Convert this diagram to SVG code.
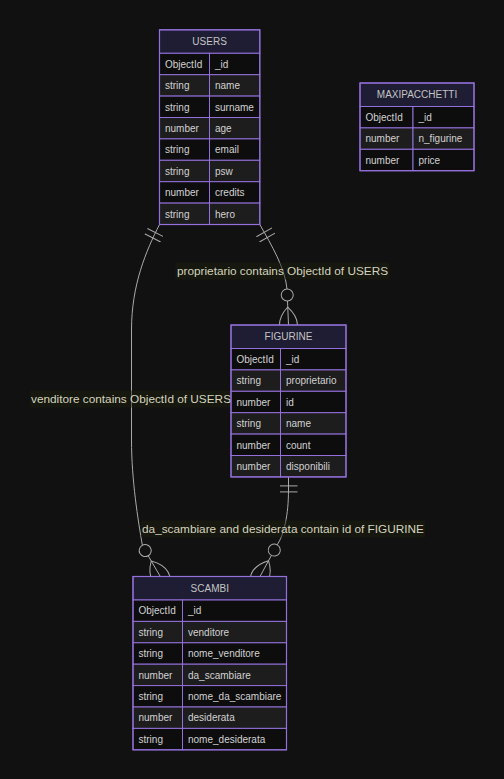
<svg xmlns="http://www.w3.org/2000/svg" width="504" height="779" viewBox="0 0 504 779">
<style>
.hdr{fill:#1e1d33;stroke:#9370DB;stroke-width:1}
.odd{fill:#0d0d0d;stroke:#9370DB;stroke-width:1}
.even{fill:#1d1d1d;stroke:#9370DB;stroke-width:1}
.box{fill:none;stroke:#9370DB;stroke-width:1.2}
.ht{font-family:"Liberation Sans",Arial,sans-serif;font-size:10px;fill:#c4c4c4;text-anchor:middle}
.at{font-family:"Liberation Sans",Arial,sans-serif;font-size:10px;fill:#d2d2d2}
.edge{fill:none;stroke:#aaaaaa;stroke-width:1}
.lblbg{fill:#1c1e0e;opacity:0.5}
.lbl{font-family:"Liberation Sans",Arial,sans-serif;font-size:11.8px;fill:#d4d4be;text-anchor:middle}
</style>
<defs>
<marker id="oneStart" markerUnits="userSpaceOnUse" markerWidth="18" markerHeight="18" refX="0" refY="9" orient="auto">
<path d="M9,0 L9,18 M15,0 L15,18" fill="none" stroke="#aaaaaa" stroke-width="1"/>
</marker>
<marker id="manyEnd" markerUnits="userSpaceOnUse" markerWidth="57" markerHeight="36" refX="39" refY="18" orient="auto">
<circle cx="9" cy="18" r="6" fill="#111111" stroke="#aaaaaa" stroke-width="1"/>
<path d="M21,18 Q39,0 57,18 Q39,36 21,18" fill="none" stroke="#aaaaaa" stroke-width="1"/>
</marker>
</defs>
<rect x="0" y="0" width="504" height="779" fill="#111111"/>
<g id="connectors">
<path class="edge" d="M259.8,224.5 C272,246 285,268 287,289 L288.5,325" marker-start="url(#oneStart)" marker-end="url(#manyEnd)"/>
<path class="edge" d="M159.5,224.5 C146,251 131.5,285 131.5,330 L131.5,440 C131.5,480 138,520 142.5,546 L160.3,576.5" marker-start="url(#oneStart)" marker-end="url(#manyEnd)"/>
<path class="edge" d="M288.5,476.9 L288.5,490 C288.5,515 284,535 277,545 L260,576.5" marker-start="url(#oneStart)" marker-end="url(#manyEnd)"/>
<rect class="lblbg" x="175.5" y="262.5" width="214" height="17"/>
<text class="lbl" x="282.5" y="274.5">proprietario contains ObjectId of USERS</text>
<rect class="lblbg" x="30" y="390.5" width="202" height="17"/>
<text class="lbl" x="131" y="402.5">venditore contains ObjectId of USERS</text>
<rect class="lblbg" x="141" y="520.5" width="284" height="17"/>
<text class="lbl" x="283" y="532.5">da_scambiare and desiderata contain id of FIGURINE</text>
</g>
<g id="USERS">
<rect class="hdr" x="159.5" y="29.8" width="100.3" height="23.5"/>
<text class="ht" x="209.6" y="45.2">USERS</text>
<rect class="odd" x="159.5" y="53.3" width="50" height="21.4"/><rect class="odd" x="209.5" y="53.3" width="50.3" height="21.4"/>
<text class="at" x="165" y="67.7">ObjectId</text><text class="at" x="215" y="67.7">_id</text>
<rect class="even" x="159.5" y="74.7" width="50" height="21.4"/><rect class="even" x="209.5" y="74.7" width="50.3" height="21.4"/>
<text class="at" x="165" y="89.1">string</text><text class="at" x="215" y="89.1">name</text>
<rect class="odd" x="159.5" y="96.1" width="50" height="21.4"/><rect class="odd" x="209.5" y="96.1" width="50.3" height="21.4"/>
<text class="at" x="165" y="110.5">string</text><text class="at" x="215" y="110.5">surname</text>
<rect class="even" x="159.5" y="117.5" width="50" height="21.4"/><rect class="even" x="209.5" y="117.5" width="50.3" height="21.4"/>
<text class="at" x="165" y="131.9">number</text><text class="at" x="215" y="131.9">age</text>
<rect class="odd" x="159.5" y="138.9" width="50" height="21.4"/><rect class="odd" x="209.5" y="138.9" width="50.3" height="21.4"/>
<text class="at" x="165" y="153.3">string</text><text class="at" x="215" y="153.3">email</text>
<rect class="even" x="159.5" y="160.3" width="50" height="21.4"/><rect class="even" x="209.5" y="160.3" width="50.3" height="21.4"/>
<text class="at" x="165" y="174.7">string</text><text class="at" x="215" y="174.7">psw</text>
<rect class="odd" x="159.5" y="181.7" width="50" height="21.4"/><rect class="odd" x="209.5" y="181.7" width="50.3" height="21.4"/>
<text class="at" x="165" y="196.1">number</text><text class="at" x="215" y="196.1">credits</text>
<rect class="even" x="159.5" y="203.1" width="50" height="21.4"/><rect class="even" x="209.5" y="203.1" width="50.3" height="21.4"/>
<text class="at" x="165" y="217.5">string</text><text class="at" x="215" y="217.5">hero</text>
<rect class="box" x="159.5" y="29.8" width="100.3" height="194.7"/>
</g>
<g id="MAXIPACCHETTI">
<rect class="hdr" x="360" y="83" width="114" height="23.5"/>
<text class="ht" x="417" y="98.4">MAXIPACCHETTI</text>
<rect class="odd" x="360" y="106.5" width="53" height="21.4"/><rect class="odd" x="413" y="106.5" width="61" height="21.4"/>
<text class="at" x="365.5" y="120.9">ObjectId</text><text class="at" x="418.5" y="120.9">_id</text>
<rect class="even" x="360" y="127.9" width="53" height="21.4"/><rect class="even" x="413" y="127.9" width="61" height="21.4"/>
<text class="at" x="365.5" y="142.3">number</text><text class="at" x="418.5" y="142.3">n_figurine</text>
<rect class="odd" x="360" y="149.3" width="53" height="21.4"/><rect class="odd" x="413" y="149.3" width="61" height="21.4"/>
<text class="at" x="365.5" y="163.7">number</text><text class="at" x="418.5" y="163.7">price</text>
<rect class="box" x="360" y="83" width="114" height="87.7"/>
</g>
<g id="FIGURINE">
<rect class="hdr" x="231" y="325" width="115" height="23.5"/>
<text class="ht" x="288.5" y="340.4">FIGURINE</text>
<rect class="odd" x="231" y="348.5" width="49.5" height="21.4"/><rect class="odd" x="280.5" y="348.5" width="65.5" height="21.4"/>
<text class="at" x="236.5" y="362.9">ObjectId</text><text class="at" x="286" y="362.9">_id</text>
<rect class="even" x="231" y="369.9" width="49.5" height="21.4"/><rect class="even" x="280.5" y="369.9" width="65.5" height="21.4"/>
<text class="at" x="236.5" y="384.3">string</text><text class="at" x="286" y="384.3">proprietario</text>
<rect class="odd" x="231" y="391.3" width="49.5" height="21.4"/><rect class="odd" x="280.5" y="391.3" width="65.5" height="21.4"/>
<text class="at" x="236.5" y="405.7">number</text><text class="at" x="286" y="405.7">id</text>
<rect class="even" x="231" y="412.7" width="49.5" height="21.4"/><rect class="even" x="280.5" y="412.7" width="65.5" height="21.4"/>
<text class="at" x="236.5" y="427.1">string</text><text class="at" x="286" y="427.1">name</text>
<rect class="odd" x="231" y="434.1" width="49.5" height="21.4"/><rect class="odd" x="280.5" y="434.1" width="65.5" height="21.4"/>
<text class="at" x="236.5" y="448.5">number</text><text class="at" x="286" y="448.5">count</text>
<rect class="even" x="231" y="455.5" width="49.5" height="21.4"/><rect class="even" x="280.5" y="455.5" width="65.5" height="21.4"/>
<text class="at" x="236.5" y="469.9">number</text><text class="at" x="286" y="469.9">disponibili</text>
<rect class="box" x="231" y="325" width="115" height="151.9"/>
</g>
<g id="SCAMBI">
<rect class="hdr" x="133" y="576.5" width="153.5" height="23.5"/>
<text class="ht" x="209.75" y="591.9">SCAMBI</text>
<rect class="odd" x="133" y="600" width="49.5" height="21.4"/><rect class="odd" x="182.5" y="600" width="104" height="21.4"/>
<text class="at" x="138.5" y="614.4">ObjectId</text><text class="at" x="188" y="614.4">_id</text>
<rect class="even" x="133" y="621.4" width="49.5" height="21.4"/><rect class="even" x="182.5" y="621.4" width="104" height="21.4"/>
<text class="at" x="138.5" y="635.8">string</text><text class="at" x="188" y="635.8">venditore</text>
<rect class="odd" x="133" y="642.8" width="49.5" height="21.4"/><rect class="odd" x="182.5" y="642.8" width="104" height="21.4"/>
<text class="at" x="138.5" y="657.2">string</text><text class="at" x="188" y="657.2">nome_venditore</text>
<rect class="even" x="133" y="664.2" width="49.5" height="21.4"/><rect class="even" x="182.5" y="664.2" width="104" height="21.4"/>
<text class="at" x="138.5" y="678.6">number</text><text class="at" x="188" y="678.6">da_scambiare</text>
<rect class="odd" x="133" y="685.6" width="49.5" height="21.4"/><rect class="odd" x="182.5" y="685.6" width="104" height="21.4"/>
<text class="at" x="138.5" y="700">string</text><text class="at" x="188" y="700">nome_da_scambiare</text>
<rect class="even" x="133" y="707" width="49.5" height="21.4"/><rect class="even" x="182.5" y="707" width="104" height="21.4"/>
<text class="at" x="138.5" y="721.4">number</text><text class="at" x="188" y="721.4">desiderata</text>
<rect class="odd" x="133" y="728.4" width="49.5" height="21.4"/><rect class="odd" x="182.5" y="728.4" width="104" height="21.4"/>
<text class="at" x="138.5" y="742.8">string</text><text class="at" x="188" y="742.8">nome_desiderata</text>
<rect class="box" x="133" y="576.5" width="153.5" height="173.3"/>
</g>
</svg>
